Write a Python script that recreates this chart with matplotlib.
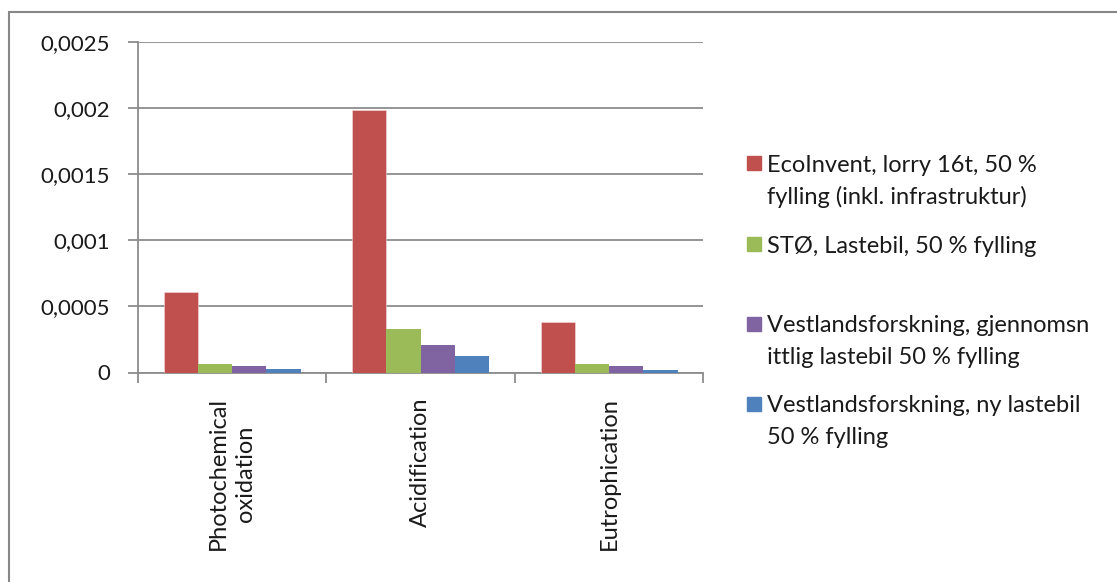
import numpy as np
import matplotlib.pyplot as plt
from matplotlib.patches import Rectangle

plt.rcParams['font.family'] = ['Lato', 'DejaVu Sans']

categories = ['Photochemical\noxidation', 'Acidification', 'Eutrophication']
series_names = ['EcoInvent, lorry 16t, 50 %\nfylling (inkl. infrastruktur)',
                'STØ, Lastebil, 50 % fylling',
                'Vestlandsforskning, gjennomsn\nittlig lastebil 50 % fylling',
                'Vestlandsforskning, ny lastebil\n50 % fylling']
ecoinvent = [0.000610, 0.001985, 0.000380]
sto = [0.000068, 0.000332, 0.000068]
vestland_avg = [0.000048, 0.000206, 0.000048]
vestland_new = [0.000030, 0.000127, 0.000020]
colors = ['#C0504D', '#9BBB59', '#8064A2', '#4F81BD']
yticks = [0, 0.0005, 0.001, 0.0015, 0.002, 0.0025]
ytick_labels = ['0', '0,0005', '0,001', '0,0015', '0,002', '0,0025']

W, H = 1117, 582
fig = plt.figure(figsize=(W / 100, H / 100), dpi=100)
ax = fig.add_axes([138 / W, 1 - 372.5 / H, (703.3 - 138) / W, (372.5 - 42.3) / H])

# outer frame of the chart area
fig.patches.append(Rectangle((9 / W, -0.1), 1.2, 1.1 - 12 / H, transform=fig.transFigure,
                             fill=False, edgecolor='#878787', linewidth=1.5))

grid_c = '#8C8C8C'
x = np.arange(len(categories))
bw = 1 / 5.5
data = [ecoinvent, sto, vestland_avg, vestland_new]
for i, vals in enumerate(data):
    ax.bar(x - 1.5 * bw + i * bw, vals, bw, color=colors[i],
           edgecolor='#F2DCDB' if i == 0 else 'none', linewidth=0.4, zorder=3)

ax.set_xlim(-0.5, 2.5)
ax.set_ylim(0, 0.0025)
ax.set_yticks(yticks)
ax.set_yticklabels(ytick_labels, fontsize=16)
ax.yaxis.grid(True, color=grid_c, linewidth=1.3)
ax.set_axisbelow(True)

ax.set_xticks(x)
ax.set_xticklabels(categories, rotation=90, ha='center', va='top',
                   multialignment='center', fontsize=17, linespacing=1.35)
ax.set_xticks([-0.5, 0.5, 1.5, 2.5], minor=True)
ax.tick_params(axis='x', which='major', length=0, pad=18)
ax.tick_params(axis='x', which='minor', length=7, width=1.3, color=grid_c, direction='out')
ax.tick_params(axis='y', length=7, width=1.3, color=grid_c, direction='out', pad=13)
ax.tick_params(labelcolor='#1a1a1a')

for s in ['top', 'right']:
    ax.spines[s].set_visible(False)
for s in ['left', 'bottom']:
    ax.spines[s].set_color(grid_c)
    ax.spines[s].set_linewidth(1.3)

# legend drawn by hand: square beside the first line of each entry
leg_first = [163, 244, 324, 404]
line_step = 32
for name, c, yc in zip(series_names, colors, leg_first):
    fig.patches.append(Rectangle((747 / W, 1 - (yc + 7) / H), 13.5 / W, 14 / H,
                                 transform=fig.transFigure, color=c))
    for k, line in enumerate(name.split('\n')):
        fig.text(767 / W, 1 - (yc + k * line_step) / H, line, fontsize=17,
                 color='#1a1a1a', va='center_baseline', ha='left',
                 transform=fig.transFigure)

fig.savefig('out.png', dpi=100, facecolor='white')
